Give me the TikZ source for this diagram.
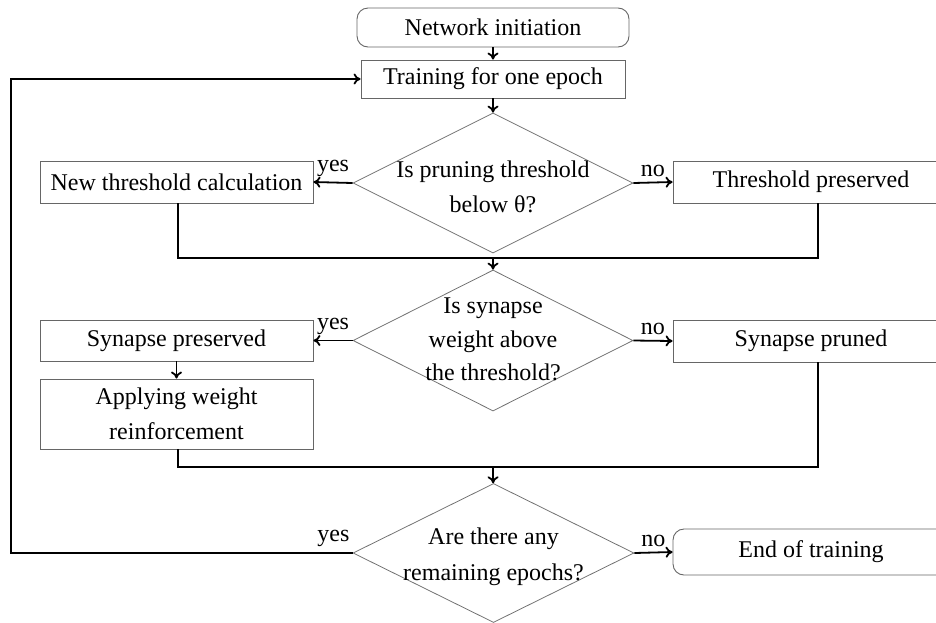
\documentclass[tikz,border=0pt]{standalone}
\usepackage{fontspec}
\setmainfont{Liberation Serif}
\usetikzlibrary{shapes.geometric,arrows.meta}
\begin{document}
\begin{tikzpicture}[x=1pt,y=-1pt,
  font=\fontsize{24}{35}\selectfont,
  box/.style={draw=black!60,line width=0.9pt,inner sep=0pt,align=center},
  rbox/.style={box,rounded corners=11pt},
  dia/.style={draw=black!55,line width=0.8pt,diamond,inner sep=0pt,minimum width=280pt,minimum height=140pt},
  conn/.style={line width=1.8pt,-{To[length=7pt,width=11pt]}},
  wire/.style={line width=2.2pt},
  lab/.style={inner sep=0pt,font=\fontsize{24}{26}\selectfont}]
\useasboundingbox (0,0) rectangle (936,622);
\clip (0,0) rectangle (936,622);
% nodes
\node[rbox,minimum width=272pt,minimum height=39pt] (n0) at (493,27.5) {Network initiation};
\node[box,minimum width=264pt,minimum height=38pt] (n1) at (493,79) {Training for one epoch};
\node[dia,label={[align=center,yshift=-4pt]center:Is pruning threshold\\below θ?}] (d1) at (493,183) {};
\node[box,minimum width=273pt,minimum height=42pt] (n2) at (176.5,182) {New threshold calculation};
\node[box,minimum width=276pt,minimum height=42pt] (n3) at (811,182) {Threshold preserved};
\node[dia,minimum height=141pt,label={[align=center,yshift=1pt,font=\fontsize{24}{33.5}\selectfont]center:Is synapse\\weight above\\the threshold?}] (d2) at (493,340.5) {};
\node[box,minimum width=273pt,minimum height=41pt] (n4) at (176.5,340.5) {Synapse preserved};
\node[box,minimum width=273pt,minimum height=70pt] (n5) at (176.5,414) {Applying weight\\reinforcement};
\node[box,minimum width=276pt,minimum height=42pt] (n6) at (811,341) {Synapse pruned};
\node[dia,minimum width=281pt,minimum height=139pt,label={[align=center,yshift=-4pt,font=\fontsize{24}{36}\selectfont]center:Are there any\\remaining epochs?}] (d3) at (493.5,553) {};
\node[rbox,minimum width=276pt,minimum height=46pt] (n7) at (811,552) {End of training};
% helper coordinates
\coordinate (m1) at (493,258);
\coordinate (l1) at (178,258);
\coordinate (r1) at (818,258);
\coordinate (m2) at (493,467);
\coordinate (l2) at (178,467);
\coordinate (r2) at (818,467);
\coordinate (lp) at (11,553);
% connectors
\draw[conn] (n0) -- (n1);
\draw[conn] (n1) -- (d1);
\draw[conn] (d1.west) -- (n2.east) node[lab,midway,above=5pt] {yes};
\draw[conn] (d1.east) -- (n3.west) node[lab,midway,above=5pt] {no};
\draw[wire] (l1 |- n2.south) -- (l1) -- (r1) -- (r1 |- n3.south);
\draw[conn] (m1) -- (d2);
\draw[conn] (d2.west) -- (n4.east) node[lab,midway,above=5pt] {yes};
\draw[conn] (d2.east) -- (n6.west) node[lab,midway,above=5pt] {no};
\draw[conn] (n4) -- (n5);
\draw[wire] (l2 |- n5.south) -- (l2) -- (r2) -- (r2 |- n6.south);
\draw[conn] (m2) -- (d3);
\draw[conn] (d3.east) -- (n7.west) node[lab,midway,above=5pt] {no};
\draw[conn] (d3.west) -- node[lab,pos=0.056,above=5pt] {yes} (lp) |- (n1.west);
\end{tikzpicture}
\end{document}
